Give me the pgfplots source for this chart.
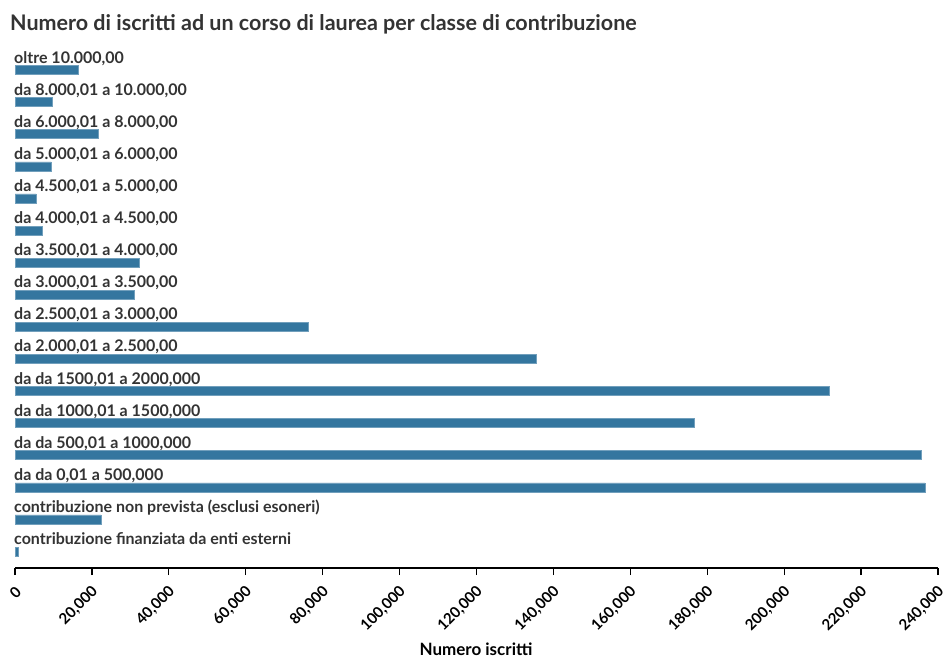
\documentclass[border=0pt]{standalone}
\usepackage{pgfplots}
\pgfplotsset{compat=1.18}
\usepackage{fontspec}
\setmainfont{Lato}
\definecolor{barc}{RGB}{52,118,159}
\definecolor{txt}{RGB}{51,51,51}
\begin{document}
\begin{tikzpicture}
\useasboundingbox (0pt,0pt) rectangle (944pt,661pt);
\node[anchor=base west, font=\bfseries\fontsize{21.5}{24}\selectfont, text=txt, inner sep=0] at (10pt,630pt) {Numero di iscritti ad un corso di laurea per classe di contribuzione};
\node[anchor=base, font=\bfseries\fontsize{17}{19}\selectfont, text=black, inner sep=0] at (476pt,6pt) {Numero iscritti};
\begin{axis}[
  at={(15pt,93pt)}, anchor=south west, scale only axis,
  width=923pt, height=523pt,
  xbar, bar width=9pt,
  xmin=0, xmax=240000, ymin=-0.514, ymax=15.78,
  axis x line*=bottom, axis y line*=left,
  y axis line style={draw=none},
  x axis line style={line width=1.3pt, black},
  ytick={0,...,15},
  ytick style={draw=none},
  xtick={0,20000,...,240000},
  xtick style={line width=1.3pt, black},
  major tick length=7pt,
  tick align=outside,
  scaled x ticks=false,
  /pgf/number format/.cd, fixed, 1000 sep={,}, assume math mode=true,
  /pgfplots/.cd,
  xticklabel style={xshift=3.5pt, yshift=-14pt, rotate=45, anchor=east, inner sep=0pt, font=\bfseries\fontsize{15}{17}\selectfont, text=black},
  yticklabel style={anchor=base west, inner sep=0pt, xshift=6pt, yshift=7pt, font=\bfseries\fontsize{16}{18}\selectfont, text=txt},
  yticklabels={
    {contribuzione finanziata da enti esterni},
    {contribuzione non prevista (esclusi esoneri)},
    {da da 0,01 a 500,000},
    {da da 500,01 a 1000,000},
    {da da 1000,01 a 1500,000},
    {da da 1500,01 a 2000,000},
    {da 2.000,01 a 2.500,00},
    {da 2.500,01 a 3.000,00},
    {da 3.000,01 a 3.500,00},
    {da 3.500,01 a 4.000,00},
    {da 4.000,01 a 4.500,00},
    {da 4.500,01 a 5.000,00},
    {da 5.000,01 a 6.000,00},
    {da 6.000,01 a 8.000,00},
    {da 8.000,01 a 10.000,00},
    {oltre 10.000,00}},
]
\addplot[fill=barc, draw=barc!70!white, line width=0.5pt] coordinates {
  (800,0) (22400,1) (236600,2) (235600,3) (176500,4) (211600,5)
  (135500,6) (76200,7) (30900,8) (32200,9) (7000,10) (5500,11)
  (9400,12) (21600,13) (9600,14) (16400,15)
};
\end{axis}
\end{tikzpicture}
\end{document}
